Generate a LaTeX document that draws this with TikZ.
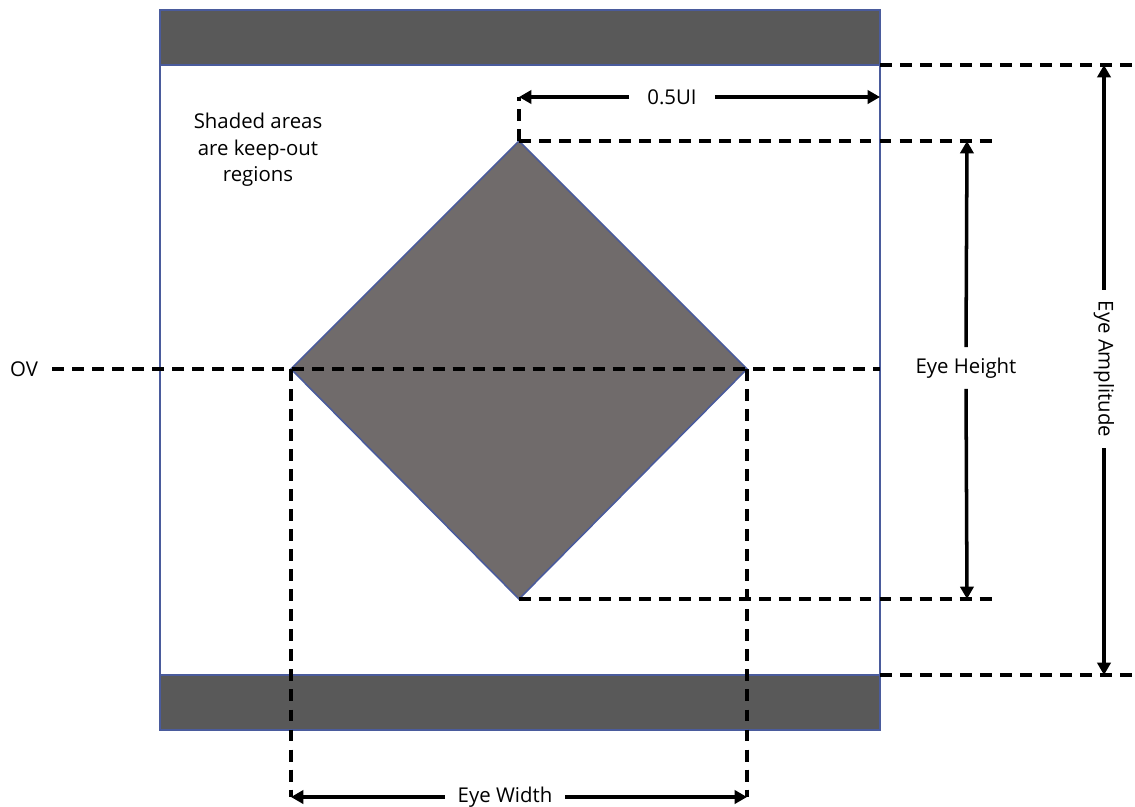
\documentclass[tikz,border=0pt]{standalone}
\usepackage{fontspec}
\setmainfont{Open Sans}
\usetikzlibrary{arrows.meta}
\definecolor{band}{HTML}{595959}
\definecolor{diam}{HTML}{706B6B}
\definecolor{edgeblue}{HTML}{4A5B9C}
\begin{document}
\begin{tikzpicture}[x=0.02cm,y=-0.02cm,
  dim/.style={line width=2pt,-{Triangle[length=7pt,width=7.5pt]}},
  guide/.style={line width=1.9pt,dash pattern=on 6.8pt off 4.6pt},
  lbl/.style={font=\fontsize{11.6}{15}\selectfont,inner sep=0pt,align=center},
  keepout/.style={draw=edgeblue,line width=0.9pt,fill=band}]
\useasboundingbox[fill=white] (0,0) rectangle (1135,806);

% frame and keep-out regions
\draw[draw=edgeblue,line width=0.9pt] (160,10) rectangle (880,730);
\draw[keepout] (160,10) rectangle (880,65);
\draw[keepout] (160,675) rectangle (880,730);

% diamond
\coordinate (dt) at (519,141);
\coordinate (dr) at (747,369);
\coordinate (db) at (519,599);
\coordinate (dl) at (291,369);
\draw[draw=edgeblue,line width=0.9pt,fill=diam] (dt) -- (dr) -- (db) -- (dl) -- cycle;

% texts
\node[lbl] (note) at (258,150) {Shaded areas\\are keep-out\\regions};
\node[lbl] (ov) at (24,369) {OV};
\node[lbl,minimum width=1.7cm] (ui) at (672,97) {0.5UI};
\node[lbl,minimum height=0.82cm] (eh) at (966,368) {Eye Height};
\node[lbl,minimum width=3.16cm,rotate=-90] (ea) at (1104,369) {Eye Amplitude};
\node[lbl,minimum width=2.4cm] (ew) at (505,797) {Eye Width};

% coordinates
\coordinate (ovA) at (52,369);
\coordinate (ovB) at (880,369);
\coordinate (uiL) at (519,97);
\coordinate (uiR) at (880,97);
\coordinate (ehT) at (995,141);
\coordinate (ehB) at (995,599);
\coordinate (ehTa) at (967,141);
\coordinate (ehBa) at (967,599);
\coordinate (eaT0) at (880,65);
\coordinate (eaT1) at (1135,65);
\coordinate (eaB0) at (880,675);
\coordinate (eaB1) at (1135,675);
\coordinate (eaTa) at (1104,65);
\coordinate (eaBa) at (1104,675);
\coordinate (ewL) at (291,797);
\coordinate (ewR) at (747,797);

% dashed guides
\draw[guide] (ovA) -- (ovB);
\draw[guide] (dt) -- (uiL);
\draw[guide] (dt) -- (ehT);
\draw[guide] (db) -- (ehB);
\draw[guide] (eaT0) -- (eaT1);
\draw[guide] (eaB0) -- (eaB1);
\draw[guide] (dl) -- (ewL);
\draw[guide] (dr) -- (ewR);

% dimension arrows
\draw[dim] (ui.west) -- (uiL);
\draw[dim] (ui.east) -- (uiR);
\draw[dim] (eh.north) -- (ehTa);
\draw[dim] (eh.south) -- (ehBa);
\draw[dim] (ea.west) -- (eaTa);
\draw[dim] (ea.east) -- (eaBa);
\draw[dim] (ew.west) -- (ewL);
\draw[dim] (ew.east) -- (ewR);
\end{tikzpicture}
\end{document}
